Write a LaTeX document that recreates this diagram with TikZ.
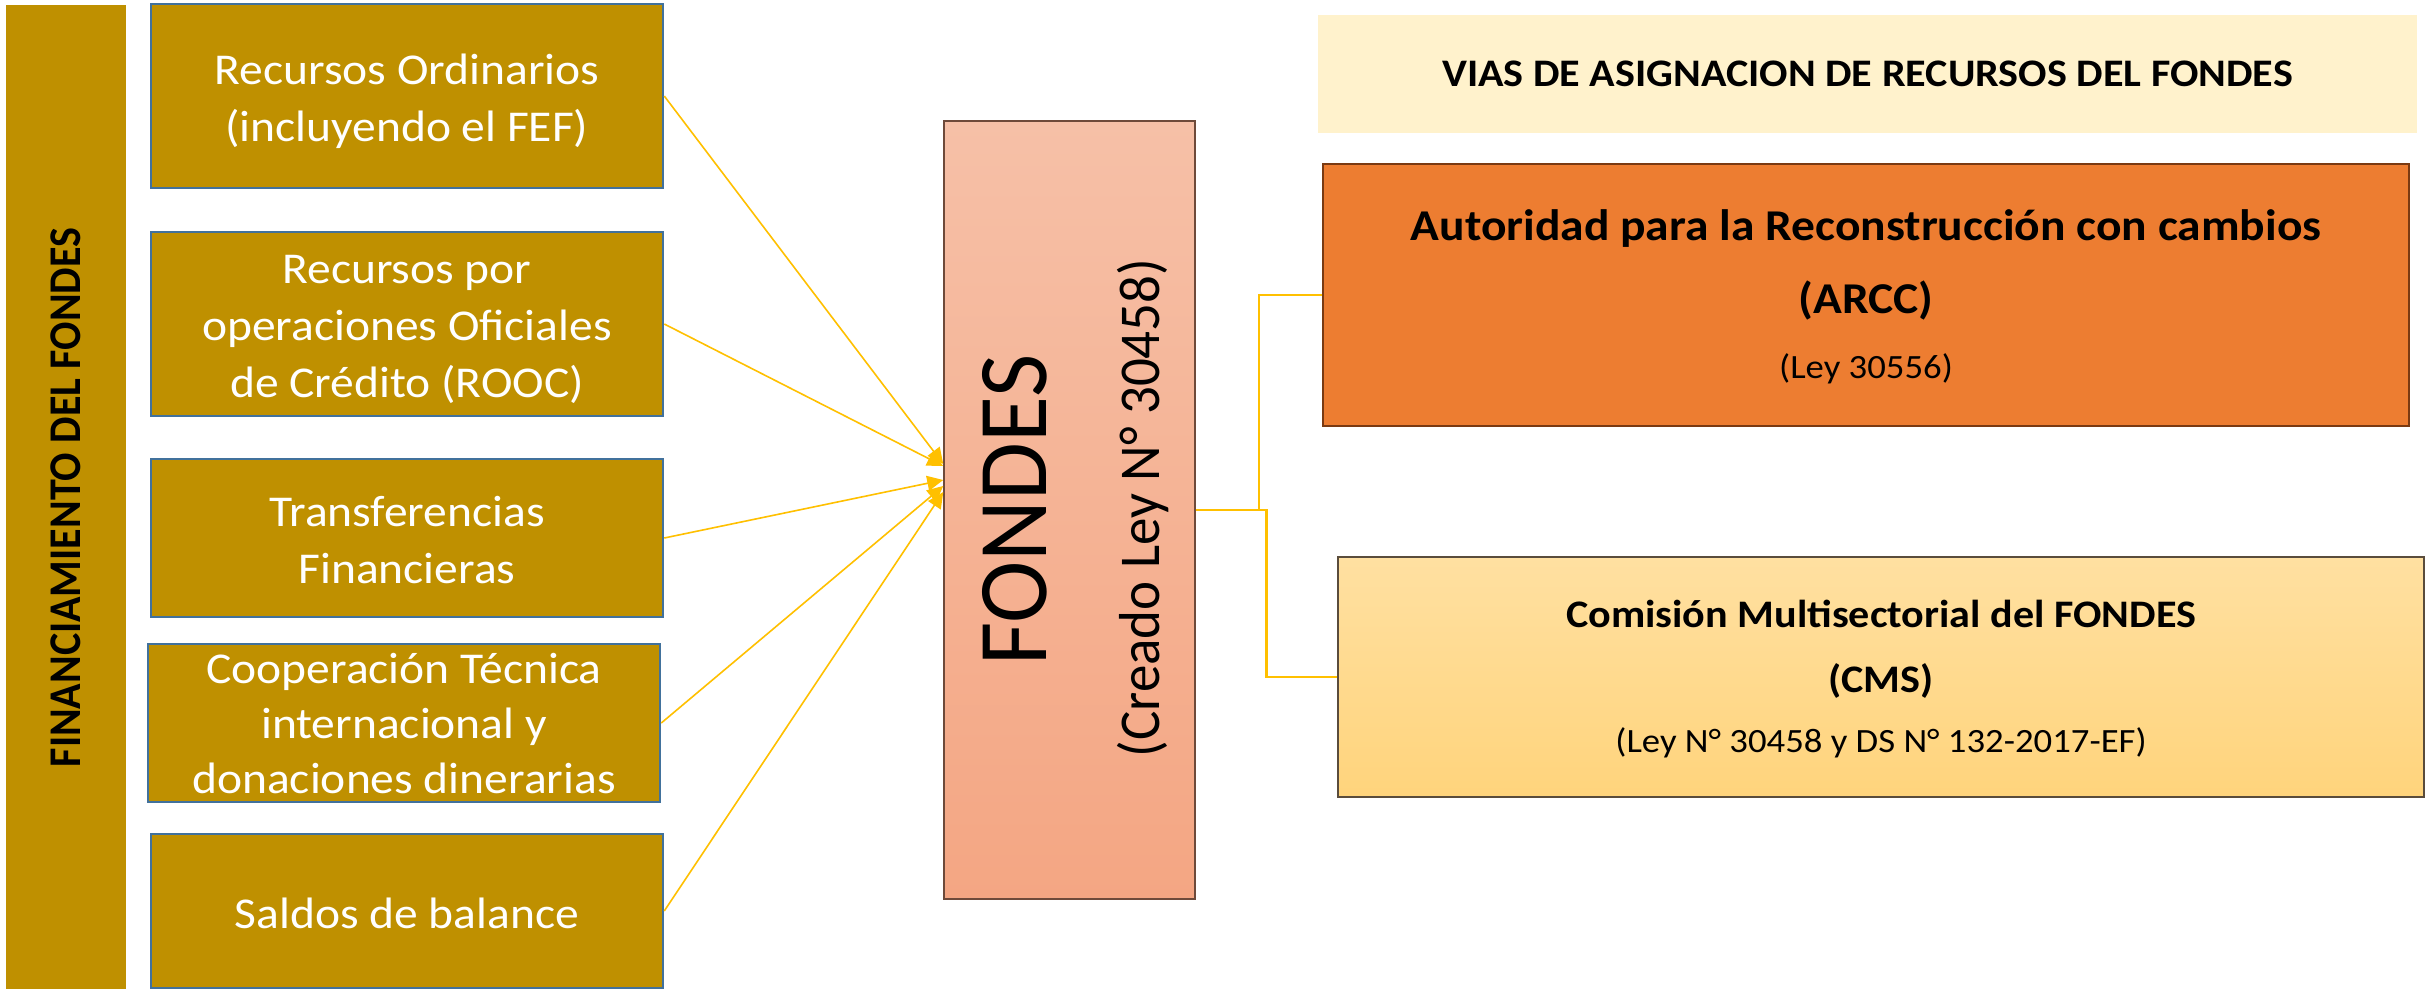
\documentclass[tikz,border=0pt]{standalone}
\usepackage{graphicx}
\usepackage{fontspec}
\setmainfont{Carlito}[FakeStretch=1.08]
\newfontfamily\rotfont{Carlito}
\usetikzlibrary{arrows.meta,calc}
\definecolor{gold}{HTML}{BF9000}
\definecolor{goldedge}{HTML}{41719C}
\definecolor{yel}{HTML}{FFC000}
\definecolor{hdr}{HTML}{FFF2CC}
\definecolor{arccfill}{HTML}{ED7D31}
\definecolor{arccedge}{HTML}{7A3A12}
\definecolor{fondtop}{HTML}{F6C0A7}
\definecolor{fondbot}{HTML}{F4A683}
\definecolor{fondedge}{HTML}{6E4A3A}
\definecolor{cmstop}{HTML}{FFE0A1}
\definecolor{cmsbot}{HTML}{FFD47C}
\definecolor{cmsedge}{HTML}{5A4C3C}
\tikzset{
  srcbox/.style={rectangle, fill=gold, draw=goldedge, line width=2.5pt,
    minimum width=512pt, inner sep=0pt},
  srctext/.style={text=white, align=center, inner sep=0pt,
    font=\fontsize{44}{57}\selectfont},
  inarrow/.style={draw=yel, line width=1.6pt, -{Triangle[length=16pt,width=15pt]}},
  outline/.style={draw=yel, line width=2.6pt},
  boldline/.style={anchor=base, inner sep=0pt, font=\bfseries\fontsize{#1}{#1}\selectfont},
  regline/.style={anchor=base, inner sep=0pt, font=\fontsize{#1}{#1}\selectfont},
}
\begin{document}
\begin{tikzpicture}[x=1pt,y=1pt]
\useasboundingbox (0,-988) rectangle (2435,0);
\fill[white] (0,-988) rectangle (2435,0);
% left bar
\node[rectangle, fill=gold, minimum width=120pt, minimum height=984pt, inner sep=0pt] (bar) at (66,-497) {};
\node[rotate=90, anchor=base, inner sep=0pt] (bartext) at (80,-497.5)
  {\scalebox{1}[1.08]{\rotfont\bfseries\fontsize{42}{42}\selectfont FINANCIAMIENTO DEL FONDES}};
% source boxes
\node[srcbox, minimum height=184pt] (b1) at (407,-96) {};
\node[srctext] (t1) at ($(b1.center)+(0,-5)$) {Recursos Ordinarios\\(incluyendo el FEF)};
\node[srcbox, minimum height=184pt] (b2) at (407,-324) {};
\node[srctext] (t2) at ($(b2.center)+(0,-5)$) {Recursos por\\operaciones Oficiales\\de Crédito (ROOC)};
\node[srcbox, minimum height=158pt] (b3) at (407,-538) {};
\node[srctext] (t3) at ($(b3.center)+(0,-2)$) {Transferencias\\Financieras};
\node[srcbox, minimum height=158pt] (b4) at (404,-723) {};
\node[srctext, font=\fontsize{44}{55}\selectfont] (t4) at ($(b4.center)+(0,-1)$) {Cooperación Técnica\\internacional y\\donaciones dinerarias};
\node[srcbox, minimum height=154pt] (b5) at (407,-911) {};
\node[srctext] (t5) at ($(b5.center)+(0,-2)$) {Saldos de balance};
% FONDES
\node[rectangle, top color=fondtop, bottom color=fondbot, draw=fondedge, line width=1.5pt,
  minimum width=251pt, minimum height=778pt, inner sep=0pt] (fondes) at (1069.5,-510) {};
\node[rotate=90, anchor=base, inner sep=0pt] (fondestext) at (1046,-510)
  {\scalebox{1}[1.05]{\rotfont\fontsize{94}{94}\selectfont FONDES}};
\node[rotate=90, anchor=base, inner sep=0pt] (creado) at (1159,-508)
  {\scalebox{1}[1.05]{\rotfont\fontsize{55}{55}\selectfont (Creado Ley N° 30458)}};
% header
\node[rectangle, fill=hdr, minimum width=1099pt, minimum height=118pt, inner sep=0pt,
  font=\bfseries\fontsize{39}{39}\selectfont] (hdr) at (1867.5,-74) {VIAS DE ASIGNACION DE RECURSOS DEL FONDES};
% ARCC
\node[rectangle, fill=arccfill, draw=arccedge, line width=1.8pt, minimum width=1086pt,
  minimum height=262pt, inner sep=0pt] (arcc) at (1866,-295) {};
\node[boldline=44] (arcc1) at (1866,-240) {Autoridad para la Reconstrucción con cambios};
\node[boldline=44] (arcc2) at (1866,-313) {(ARCC)};
\node[regline=34] (arcc3) at (1866,-378) {(Ley 30556)};
% CMS
\node[rectangle, top color=cmstop, bottom color=cmsbot, draw=cmsedge, line width=1.8pt,
  minimum width=1086pt, minimum height=240pt, inner sep=0pt] (cms) at (1881,-677) {};
\node[boldline=39] (cms1) at (1881,-627) {Comisión Multisectorial del FONDES};
\node[boldline=39] (cms2) at (1881,-692) {(CMS)};
\node[regline=34] (cms3) at (1881,-752) {(Ley N° 30458 y DS N° 132-2017-EF)};
% incoming arrows
\draw[inarrow] (b1.east) -- ($(fondes.west)+(0,46)$);
\draw[inarrow] (b2.east) -- ($(fondes.west)+(0,44)$);
\draw[inarrow] (b3.east) -- ($(fondes.west)+(0,30)$);
\draw[inarrow] (b4.east) -- ($(fondes.west)+(0,24)$);
\draw[inarrow] (b5.east) -- ($(fondes.west)+(0,18)$);
% outgoing elbows
\draw[outline] (fondes.east) -| ($(fondes.east)!0.5!(arcc.west)$) |- (arcc.west);
\draw[outline] (fondes.east) -| ($(fondes.east)!0.5!(cms.west)$) |- (cms.west);
\end{tikzpicture}
\end{document}
